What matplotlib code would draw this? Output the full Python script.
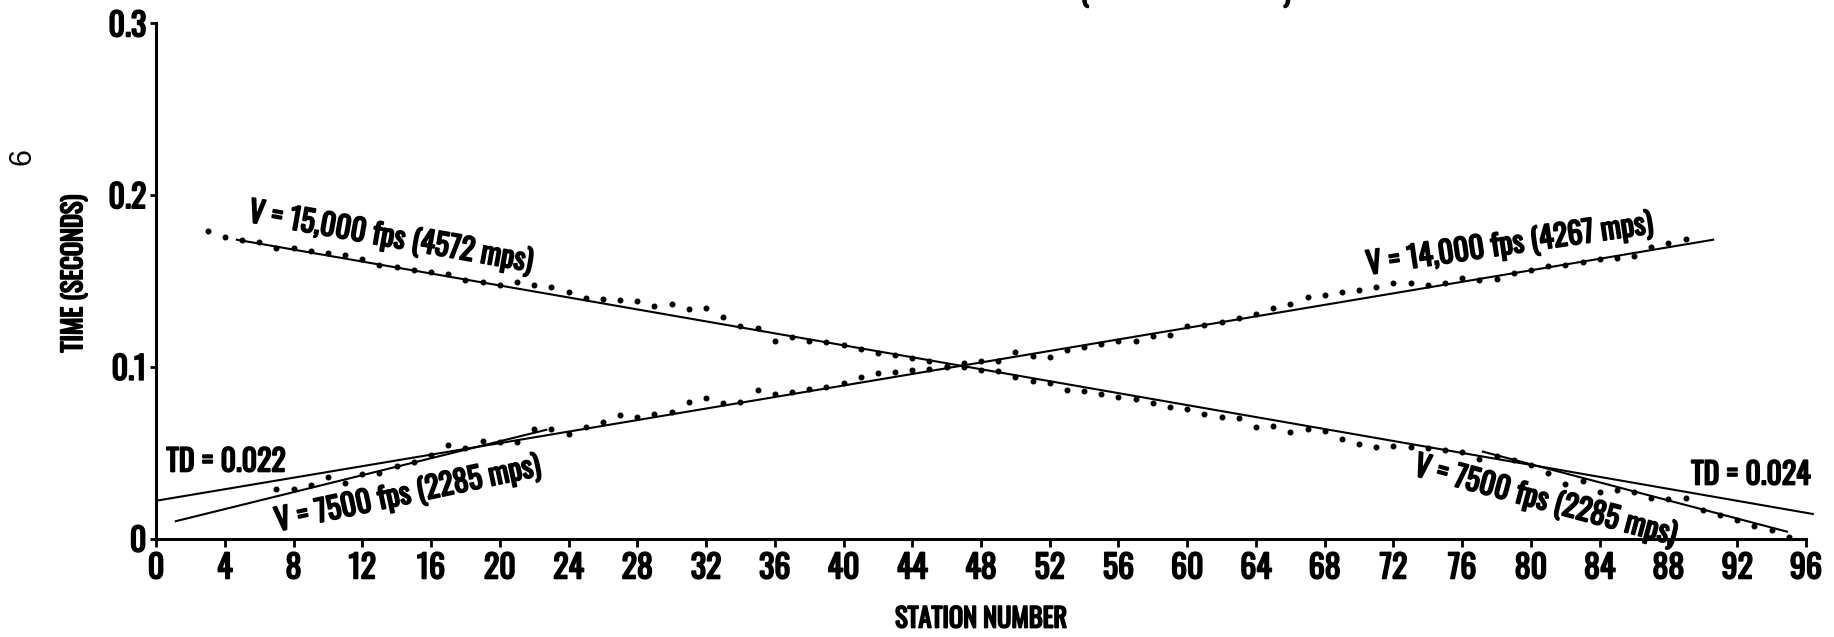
import numpy as np
import matplotlib
matplotlib.use("Agg")
from matplotlib import pyplot as plt
from matplotlib import font_manager as fm
from matplotlib import patheffects as pe

# ---- data ----
fwd_station = np.arange(7, 90)
fwd_time = [0.0291, 0.0291, 0.0310, 0.0359, 0.0322, 0.0373, 0.0384, 0.0420, 0.0445, 0.0489,
            0.0542, 0.0526, 0.0567, 0.0565, 0.0561, 0.0635, 0.0635, 0.0606, 0.0650, 0.0677,
            0.0720, 0.0707, 0.0728, 0.0736, 0.0794, 0.0817, 0.0791, 0.0793, 0.0865, 0.0842,
            0.0855, 0.0869, 0.0884, 0.0907, 0.0942, 0.0962, 0.0971, 0.0980, 0.0989, 0.1000,
            0.1024, 0.1036, 0.1036, 0.1088, 0.1063, 0.1059, 0.1098, 0.1117, 0.1133, 0.1152,
            0.1152, 0.1179, 0.1185, 0.1238, 0.1245, 0.1259, 0.1282, 0.1307, 0.1341, 0.1364,
            0.1408, 0.1418, 0.1437, 0.1447, 0.1467, 0.1486, 0.1486, 0.1476, 0.1486, 0.1515,
            0.1506, 0.1510, 0.1545, 0.1564, 0.1587, 0.1593, 0.1612, 0.1628, 0.1635, 0.1645,
            0.1696, 0.1719, 0.1744]

rev_station = np.arange(3, 96)
rev_time = [0.1790, 0.1757, 0.1741, 0.1726, 0.1691, 0.1689, 0.1673, 0.1664, 0.1652, 0.1625,
            0.1590, 0.1580, 0.1563, 0.1551, 0.1538, 0.1505, 0.1495, 0.1479, 0.1493, 0.1474,
            0.1464, 0.1435, 0.1400, 0.1394, 0.1388, 0.1382, 0.1357, 0.1367, 0.1334, 0.1340,
            0.1292, 0.1238, 0.1224, 0.1150, 0.1172, 0.1152, 0.1143, 0.1127, 0.1102, 0.1079,
            0.1067, 0.1050, 0.1036, 0.1005, 0.1000, 0.0981, 0.0977, 0.0939, 0.0919, 0.0907,
            0.0865, 0.0859, 0.0840, 0.0826, 0.0812, 0.0787, 0.0764, 0.0752, 0.0725, 0.0709,
            0.0700, 0.0648, 0.0657, 0.0622, 0.0638, 0.0628, 0.0578, 0.0550, 0.0535, 0.0539,
            0.0531, 0.0529, 0.0515, 0.0506, 0.0461, 0.0482, 0.0457, 0.0428, 0.0383, 0.0317,
            0.0337, 0.0273, 0.0282, 0.0270, 0.0234, 0.0228, 0.0234, 0.0166, 0.0137, 0.0108,
            0.0073, 0.0050, 0.0010]

# fitted velocity lines (station, time) end points
fwd_direct_x = [1.15, 22.7]
fwd_direct_t = [0.0101, 0.0633]
fwd_refr_x = [0.0, 90.6]
fwd_refr_t = [0.022, 0.174]
rev_refr_x = [4.7, 96.4]
rev_refr_t = [0.174, 0.0143]
rev_direct_x = [77.2, 94.9]
rev_direct_t = [0.0506, 0.004]

xticks = list(range(0, 97, 4))
yticks = [0, 0.1, 0.2, 0.3]
ytick_labels = ["0", "0.1", "0.2", "0.3"]

# condensed lettering: take the first narrow family that is present
font = 'DejaVu Sans'
for cand in ['Oswald', 'Roboto Condensed', 'Archivo Narrow', 'Liberation Sans Narrow']:
    try:
        fm.findfont(fm.FontProperties(family=cand), fallback_to_default=False)
        font = cand
        break
    except Exception:
        pass
plt.rcParams['font.family'] = [font, 'DejaVu Sans']
plt.rcParams['font.weight'] = 'bold'

heavy = [pe.withStroke(linewidth=1.3, foreground='black')]

fig = plt.figure(figsize=(18.34, 6.37), dpi=100)
ax = fig.add_axes([0.0851, 0.1546, 0.8996, 0.8087])

ax.plot(fwd_station, fwd_time, 'o', color='black', markersize=3.3)
ax.plot(rev_station, rev_time, 'o', color='black', markersize=3.3)
for xs, ts in [(fwd_direct_x, fwd_direct_t), (fwd_refr_x, fwd_refr_t),
               (rev_refr_x, rev_refr_t), (rev_direct_x, rev_direct_t)]:
    ax.plot(xs, ts, '-', color='black', linewidth=1.5, clip_on=False)

ax.set_xlim(0, 96)
ax.set_ylim(0, 0.3)
ax.spines['top'].set_visible(False)
ax.spines['right'].set_visible(False)
ax.spines['left'].set_linewidth(2.2)
ax.spines['bottom'].set_linewidth(2.2)
ax.spines['left'].set_bounds(0, 0.3)
ax.spines['bottom'].set_bounds(0, 96)

ax.set_xticks(xticks)
ax.set_xticklabels([str(v) for v in xticks])
ax.set_yticks(yticks)
ax.set_yticklabels(ytick_labels)
ax.tick_params(axis='x', direction='out', length=6, width=2, pad=4, labelsize=23)
ax.tick_params(axis='y', direction='out', length=4, width=2, pad=3, labelsize=23)
for lab in ax.get_xticklabels() + ax.get_yticklabels():
    lab.set_path_effects(heavy)

ax.set_xlabel("STATION NUMBER", fontsize=19, path_effects=heavy)
ax.set_ylabel("TIME (SECONDS)", fontsize=19, path_effects=heavy)
ax.xaxis.set_label_coords(0.5, -0.13)
ax.yaxis.set_label_coords(-0.0412, 0.514)

tkw = dict(fontsize=21.5, ha='center', va='center', rotation_mode='anchor', path_effects=heavy)
ax.text(13.67, 0.1753, "V = 15,000 fps (4572 mps)", rotation=-10, **tkw)
ax.text(14.66, 0.0259, "V = 7500 fps (2285 mps)", rotation=12, **tkw)
ax.text(4.07, 0.0446, "TD = 0.022", **tkw)
ax.text(92.8, 0.0370, "TD = 0.024", **tkw)
ax.text(78.77, 0.1712, "V = 14,000 fps (4267 mps)", rotation=8.3, **tkw)
ax.text(80.86, 0.0218, "V = 7500 fps (2285 mps)", rotation=-15, **tkw)

# page number and the cut-off title at the top edge
fig.text(22 / 1834, 1 - 156 / 637, "6", rotation=90, fontsize=22,
         fontweight='normal', family=['Liberation Sans', 'DejaVu Sans'], ha='center', va='center')
fig.text(1085 / 1834, 1 - 2 / 637, "(", fontsize=20, ha='center', va='baseline', path_effects=heavy)
fig.text(1287 / 1834, 1 - 2 / 637, ")", fontsize=20, ha='center', va='baseline', path_effects=heavy)

fig.savefig("out.png", dpi=100, facecolor='white')
